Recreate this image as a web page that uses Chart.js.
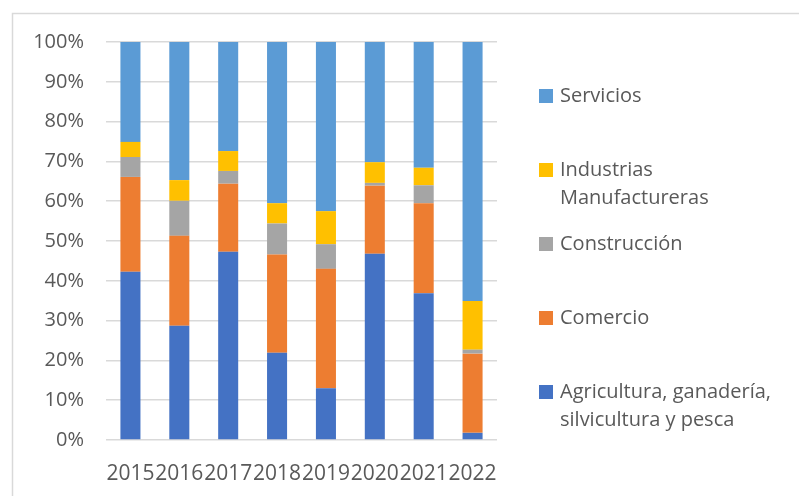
<!DOCTYPE html>
<html>
<head>
<meta charset="utf-8">
<script src="https://cdn.jsdelivr.net/npm/chart.js@4"></script>
<style>
  html, body { margin: 0; padding: 0; background: #fff; }
  #wrap { width: 799px; height: 496px; }
</style>
</head>
<body>
<div id="wrap"><canvas id="myChart" width="799" height="496"></canvas></div>
<script>
// años y valores (%)
const years = ['2015', '2016', '2017', '2018', '2019', '2020', '2021', '2022'];
const agricultura = [42.3, 28.7, 47.3, 21.9, 13.0, 46.8, 36.9, 1.8];
const comercio = [23.8, 22.6, 17.1, 24.7, 30.0, 17.1, 22.6, 19.9];
const construccion = [5.0, 8.8, 3.2, 7.8, 6.2, 0.7, 4.5, 1.0];
const industrias = [3.8, 5.2, 5.0, 5.1, 8.3, 5.2, 4.4, 12.2];
const servicios = [25.1, 34.7, 27.4, 40.5, 42.5, 30.2, 31.6, 65.1];
const yTicks = [0, 10, 20, 30, 40, 50, 60, 70, 80, 90, 100];

const FONT = "'Open Sans', sans-serif";
const TEXT = '#595959';

// leyenda a la derecha, estilo Excel (orden inverso, textos en varias líneas)
const sideLegend = {
    id: 'sideLegend',
    beforeDraw(chart) {
        const ctx = chart.ctx;
        ctx.save();
        ctx.strokeStyle = '#d9d9d9';
        ctx.lineWidth = 1.5;
        ctx.beginPath();
        ctx.moveTo(12.5, chart.height);
        ctx.lineTo(12.5, 13.5);
        ctx.lineTo(chart.width, 13.5);
        ctx.stroke();
        ctx.restore();
    },
    afterDraw(chart) {
        const ctx = chart.ctx;
        const sets = chart.data.datasets.slice().reverse();
        ctx.save();
        ctx.font = '20px ' + FONT;
        ctx.textBaseline = 'middle';
        ctx.fillStyle = TEXT;
        sets.forEach((ds, i) => {
            const cy = 96 + i * 74;
            ctx.fillStyle = ds.backgroundColor;
            ctx.fillRect(539, cy - 7, 14, 14);
            ctx.fillStyle = TEXT;
            ds.label.split('\n').forEach((line, j) => {
                ctx.fillText(line, 560, cy + j * 28);
            });
        });
        ctx.restore();
    }
};

const ctx = document.getElementById('myChart').getContext('2d');
new Chart(ctx, {
    type: 'bar',
    data: {
        labels: years,
        datasets: [
            { label: 'Agricultura, ganadería,\nsilvicultura y pesca', data: agricultura, backgroundColor: '#4472C4' },
            { label: 'Comercio', data: comercio, backgroundColor: '#ED7D31' },
            { label: 'Construcción', data: construccion, backgroundColor: '#A5A5A5' },
            { label: 'Industrias\nManufactureras', data: industrias, backgroundColor: '#FFC000' },
            { label: 'Servicios', data: servicios, backgroundColor: '#5B9BD5' }
        ]
    },
    options: {
        responsive: false,
        animation: false,
        layout: { padding: { left: 12, right: 302, top: 42, bottom: 0 } },
        datasets: { bar: { categoryPercentage: 1, barPercentage: 0.41 } },
        plugins: {
            legend: { display: false },
            tooltip: { enabled: false }
        },
        scales: {
            x: {
                stacked: true,
                grid: { display: false },
                border: { display: false },
                ticks: { color: TEXT, font: { family: FONT, size: 21 }, padding: 13, maxRotation: 0, autoSkip: false },
                afterFit: s => { s.height = 56; }
            },
            y: {
                stacked: true,
                min: 0,
                max: 100,
                afterBuildTicks: s => { s.ticks = yTicks.map(v => ({ value: v })); },
                grid: { color: '#d9d9d9', lineWidth: 1.5, drawTicks: false },
                border: { display: false },
                ticks: { color: TEXT, font: { family: FONT, size: 20 }, padding: 22, callback: v => v + '%' },
                afterFit: s => { s.width = 94; }
            }
        }
    },
    plugins: [sideLegend]
});
</script>
</body>
</html>
